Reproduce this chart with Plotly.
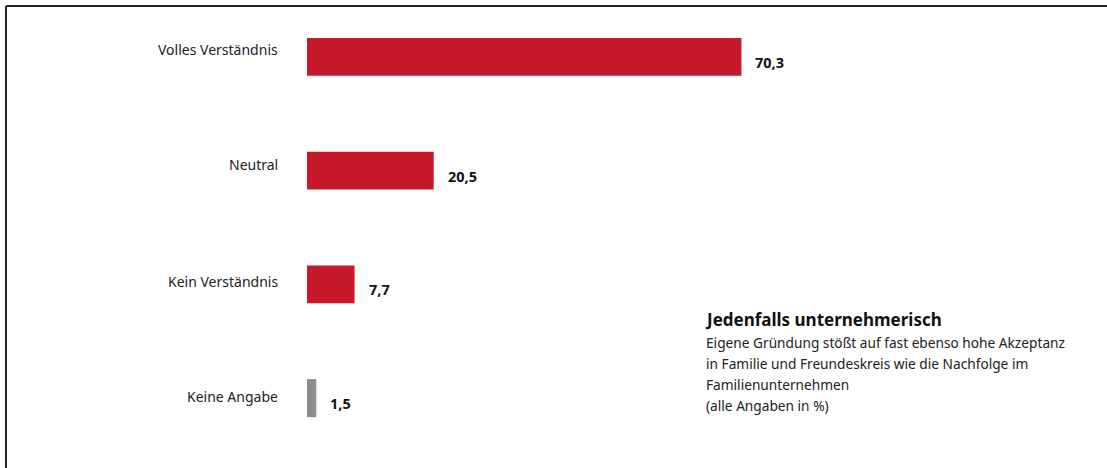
import plotly.graph_objects as go

# Survey answers and their shares (%)
categories = ["Volles Verständnis", "Neutral", "Kein Verständnis", "Keine Angabe"]
values = [70.3, 20.5, 7.7, 1.5]
value_labels = ["70,3", "20,5", "7,7", "1,5"]
bar_colors = ["#C8192A", "#C8192A", "#C8192A", "#8C8C8C"]

note_title = "Jedenfalls unternehmerisch"
note_lines = [
    "Eigene Gründung stößt auf fast ebenso hohe Akzeptanz",
    "in Familie und Freundeskreis wie die Nachfolge im",
    "Familienunternehmen",
    "(alle Angaben in %)",
]

FONT = "Noto Sans"
W, H = 1107, 468
ML, MB = 307, 13
plot_w, plot_h = W - ML, H - MB
px_per_unit = 6.18
# category labels sit a little above the bar centre
label_lift = [7, 6, 3, 2]

fig = go.Figure(
    go.Bar(
        x=values,
        y=categories,
        orientation="h",
        marker=dict(color=bar_colors, line=dict(width=0)),
        hoverinfo="skip",
    )
)

# category labels, right-aligned left of the bars
for cat, lift in zip(categories, label_lift):
    fig.add_annotation(
        x=0, y=cat, xref="x", yref="y", text=cat,
        showarrow=False, xanchor="right", yanchor="middle",
        xshift=-27, yshift=lift,
        font=dict(family=FONT, size=14, color="#222222"),
    )

# value labels just right of each bar, slightly below centre
for cat, val, lab in zip(categories, values, value_labels):
    fig.add_annotation(
        x=val, y=cat, xref="x", yref="y", text=f"<b>{lab}</b>",
        showarrow=False, xanchor="left", yanchor="middle",
        xshift=12, yshift=-5,
        font=dict(family=FONT, size=14.5, color="#111111"),
    )

# side note
def px_x(x):
    return (x - ML) / plot_w

def px_y(y):
    return 1 - y / plot_h

fig.add_annotation(
    x=px_x(703), y=px_y(319), xref="paper", yref="paper",
    text=f"<b>{note_title}</b>", showarrow=False,
    xanchor="left", yanchor="middle",
    font=dict(family=FONT, size=17, color="#111111"),
)
for i, line in enumerate(note_lines):
    fig.add_annotation(
        x=px_x(704), y=px_y(342 + 21.3 * i), xref="paper", yref="paper",
        text=line, showarrow=False, xanchor="left", yanchor="middle",
        font=dict(family=FONT, size=13.7, color="#222222"),
    )

# frame lines (left and top)
fig.add_shape(type="line", xref="paper", yref="paper",
              x0=px_x(6), x1=px_x(6), y0=px_y(6), y1=px_y(H + 2),
              line=dict(color="#222222", width=2))
fig.add_shape(type="line", xref="paper", yref="paper",
              x0=px_x(6), x1=px_x(W + 2), y0=px_y(6), y1=px_y(6),
              line=dict(color="#222222", width=2))

fig.update_layout(
    width=W, height=H,
    margin=dict(l=ML, r=0, t=0, b=MB),
    paper_bgcolor="white", plot_bgcolor="white",
    bargap=0.666,
    showlegend=False,
    font=dict(family=FONT, size=14, color="#222222"),
    xaxis=dict(range=[0, plot_w / px_per_unit], visible=False, fixedrange=True),
    yaxis=dict(
        categoryorder="array", categoryarray=categories,
        autorange="reversed", showgrid=False, zeroline=False,
        showline=False, ticks="", showticklabels=False,
        fixedrange=True,
    ),
)

fig.write_html("out.html", config={"displayModeBar": False})
